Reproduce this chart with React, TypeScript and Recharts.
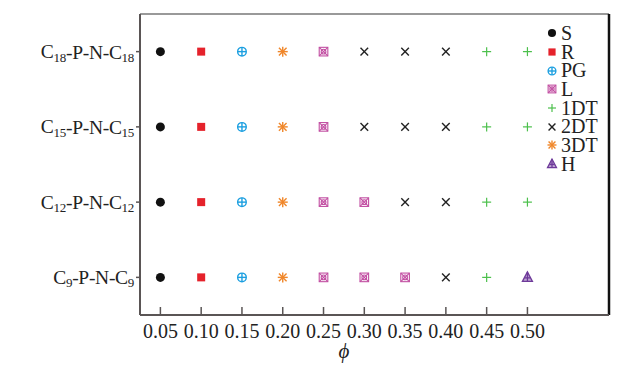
import React from "react";
import { ScatterChart, Scatter, XAxis, YAxis, Legend, ReferenceLine } from "recharts";

// alkyl chain length of each system, bottom row first
const carbons = [9, 12, 15, 18];
const rows = [1, 2, 3, 4];
const phiTicks = [0.05, 0.1, 0.15, 0.2, 0.25, 0.3, 0.35, 0.4, 0.45, 0.5];

// phase points as [phi, row]
const S = [[0.05, 1], [0.05, 2], [0.05, 3], [0.05, 4]];
const R = [[0.1, 1], [0.1, 2], [0.1, 3], [0.1, 4]];
const PG = [[0.15, 1], [0.15, 2], [0.15, 3], [0.15, 4]];
const L = [[0.25, 1], [0.3, 1], [0.35, 1], [0.25, 2], [0.3, 2], [0.25, 3], [0.25, 4]];
const DT1 = [[0.45, 1], [0.45, 2], [0.5, 2], [0.45, 3], [0.5, 3], [0.45, 4], [0.5, 4]];
const DT2 = [[0.4, 1], [0.35, 2], [0.4, 2], [0.3, 3], [0.35, 3], [0.4, 3], [0.3, 4], [0.35, 4], [0.4, 4]];
const DT3 = [[0.2, 1], [0.2, 2], [0.2, 3], [0.2, 4]];
const H = [[0.5, 1]];

const legendOrder = ["S", "R", "PG", "L", "1DT", "2DT", "3DT", "H"];

const colors: Record<string, string> = {
  S: "#111111",
  R: "#e5222b",
  PG: "#1c9fe0",
  L: "#c24fa2",
  "1DT": "#4cc04c",
  "2DT": "#222222",
  "3DT": "#f0872a",
  H: "#6e3a9a",
};

const series: [string, number[][]][] = [
  ["S", S],
  ["R", R],
  ["PG", PG],
  ["3DT", DT3],
  ["L", L],
  ["2DT", DT2],
  ["1DT", DT1],
  ["H", H],
];

const font = "Liberation Serif";
const axisColor = "#5a5555";

function Mark({ kind, cx, cy, s = 1 }: { kind: string; cx: number; cy: number; s?: number }) {
  const c = colors[kind];
  const r = 4.3 * s;
  switch (kind) {
    case "S":
      return <circle cx={cx} cy={cy} r={4.5 * s} fill={c} />;
    case "R":
      return <rect x={cx - 4 * s} y={cy - 4 * s} width={8 * s} height={8 * s} fill={c} />;
    case "PG":
      return (
        <g stroke={c} strokeWidth={1.4} fill="none">
          <circle cx={cx} cy={cy} r={r} />
          <line x1={cx - r} y1={cy} x2={cx + r} y2={cy} />
          <line x1={cx} y1={cy - r} x2={cx} y2={cy + r} />
        </g>
      );
    case "L":
      return (
        <g stroke={c} strokeWidth={1.1} fill="none">
          <rect x={cx - r} y={cy - r} width={2 * r} height={2 * r} />
          <circle cx={cx} cy={cy} r={r * 0.55} />
          <line x1={cx - r} y1={cy - r} x2={cx + r} y2={cy + r} />
          <line x1={cx - r} y1={cy + r} x2={cx + r} y2={cy - r} />
        </g>
      );
    case "1DT":
      return (
        <g stroke={c} strokeWidth={1.2}>
          <line x1={cx - 4.5 * s} y1={cy} x2={cx + 4.5 * s} y2={cy} />
          <line x1={cx} y1={cy - 4.5 * s} x2={cx} y2={cy + 4.5 * s} />
        </g>
      );
    case "2DT":
      return (
        <g stroke={c} strokeWidth={1.4}>
          <line x1={cx - 3.8 * s} y1={cy - 3.8 * s} x2={cx + 3.8 * s} y2={cy + 3.8 * s} />
          <line x1={cx - 3.8 * s} y1={cy + 3.8 * s} x2={cx + 3.8 * s} y2={cy - 3.8 * s} />
        </g>
      );
    case "3DT":
      return (
        <g stroke={c} strokeWidth={1.4}>
          <line x1={cx - 5 * s} y1={cy} x2={cx + 5 * s} y2={cy} />
          <line x1={cx} y1={cy - 5 * s} x2={cx} y2={cy + 5 * s} />
          <line x1={cx - 3.8 * s} y1={cy - 3.8 * s} x2={cx + 3.8 * s} y2={cy + 3.8 * s} />
          <line x1={cx - 3.8 * s} y1={cy + 3.8 * s} x2={cx + 3.8 * s} y2={cy - 3.8 * s} />
        </g>
      );
    default:
      return (
        <g stroke={c} strokeWidth={1.3} fill={c} fillOpacity={0.45}>
          <polygon points={`${cx},${cy - 5.5 * s} ${cx - 5 * s},${cy + 4 * s} ${cx + 5 * s},${cy + 4 * s}`} />
          <line x1={cx} y1={cy - 5.5 * s} x2={cx} y2={cy + 4 * s} />
          <line x1={cx - 3 * s} y1={cy + 0.5 * s} x2={cx + 3 * s} y2={cy + 0.5 * s} />
        </g>
      );
  }
}

function XTick(props: any) {
  const { x, y, payload } = props;
  return (
    <g>
      <line x1={x} x2={x} y1={y} y2={y - 8} stroke={axisColor} strokeWidth={1.5} />
      <text x={x} y={y + 16} textAnchor="middle" dominantBaseline="central" fontFamily={font} fontSize={20} fill="#222">
        {Number(payload.value).toFixed(2)}
      </text>
    </g>
  );
}

function YTick(props: any) {
  const { x, y, payload } = props;
  const n = carbons[payload.value - 1];
  return (
    <text
      x={x - 1}
      y={y}
      textAnchor="end"
      dominantBaseline="central"
      fontFamily={font}
      fontSize={19.5}
      letterSpacing={-0.3}
      fill="#222"
    >
      C
      <tspan fontSize={13} dy={5}>{n}</tspan>
      <tspan dy={-5}>-P-N-C</tspan>
      <tspan fontSize={13} dy={5}>{n}</tspan>
    </text>
  );
}

function PhiLabel(props: any) {
  const { viewBox } = props;
  return (
    <text
      x={viewBox.x + viewBox.width * 0.435}
      y={viewBox.y + 36}
      textAnchor="middle"
      dominantBaseline="central"
      fontFamily={font}
      fontStyle="italic"
      fontSize={21}
      fill="#222"
    >
      ϕ
    </text>
  );
}

function LegendBox() {
  return (
    <div style={{ fontFamily: font, fontSize: 20, color: "#222" }}>
      {legendOrder.map((k) => (
        <div key={k} style={{ display: "flex", alignItems: "center", height: 18.7, lineHeight: "18.7px" }}>
          <svg width={12} height={12} style={{ overflow: "visible" }}>
            <Mark kind={k} cx={6} cy={6} s={0.9} />
          </svg>
          <span style={{ marginLeft: 3 }}>{k}</span>
        </div>
      ))}
    </div>
  );
}

export default function App() {
  return (
    <div style={{ position: "absolute", left: 0, top: 0, background: "#fff" }}>
      <ScatterChart width={638} height={367} margin={{ top: 14, right: 29, bottom: 12, left: 10 }}>
        <XAxis
          dataKey="phi"
          type="number"
          domain={[0.025, 0.6]}
          ticks={phiTicks}
          allowDataOverflow
          height={40}
          tickSize={0}
          tickMargin={0}
          tickLine={false}
          tick={<XTick />}
          axisLine={{ stroke: axisColor, strokeWidth: 2 }}
          label={<PhiLabel />}
        />
        <YAxis
          dataKey="row"
          type="number"
          domain={[0.5, 4.5]}
          ticks={rows}
          allowDataOverflow
          width={130}
          tickSize={4}
          tickMargin={1}
          tickLine={{ stroke: axisColor, strokeWidth: 1.5 }}
          tick={<YTick />}
          axisLine={{ stroke: axisColor, strokeWidth: 2 }}
        />
        <ReferenceLine y={4.5} stroke="#777" strokeWidth={1.3} />
        <ReferenceLine x={0.6} stroke="#111" strokeWidth={2.5} />
        {series.map(([k, pts]) => (
          <Scatter
            key={k}
            name={k}
            data={pts.map(([phi, row]) => ({ phi, row }))}
            isAnimationActive={false}
            shape={(p: any) => <Mark kind={k} cx={p.cx} cy={p.cy} />}
          />
        ))}
        <Legend
          layout="vertical"
          align="center"
          verticalAlign="middle"
          content={() => <LegendBox />}
          wrapperStyle={{ left: 546, top: 24, width: 70 }}
        />
      </ScatterChart>
    </div>
  );
}
